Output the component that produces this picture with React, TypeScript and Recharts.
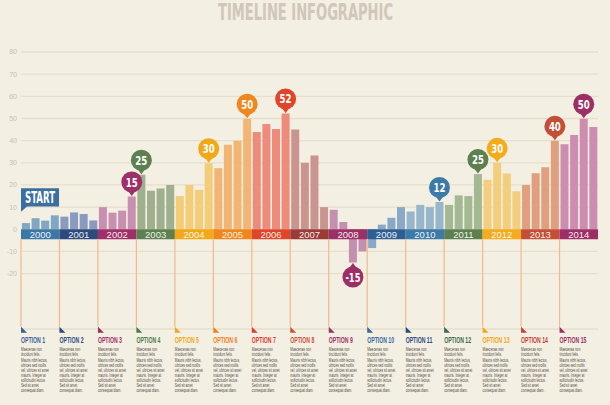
import React from 'react';
import {
  BarChart,
  Bar,
  XAxis,
  YAxis,
  CartesianGrid,
  Cell,
  LabelList,
  ReferenceArea,
  ReferenceLine,
  ReferenceDot,
} from 'recharts';

const years = ['2000', '2001', '2002', '2003', '2004', '2005', '2006', '2007', '2008', '2009', '2010', '2011', '2012', '2013', '2014'];

// band / pin colour per year
const yearColors = [
  '#3b78a6', '#2d4a7e', '#9e2f68', '#5d8050', '#f1a91a', '#f0861e', '#de4529', '#9b3b38',
  '#9c2f66', '#2f5f92', '#3c7aa8', '#5e8050', '#f2ac1c', '#c24f36', '#9c2f66',
];

// lighter bar colour per year
const barColors = [
  '#80a8c4', '#8a9bbf', '#c98fb0', '#9fb08e', '#f3cd78', '#f3b574', '#ee8b7b', '#c9958e',
  '#c58fb0', '#8aa8c8', '#96b6cc', '#a3b993', '#f3ce7c', '#e0a07f', '#cc8db0',
];

// four bars per year
const barValues = [
  [2.8, 5, 3.9, 6.3],
  [5.7, 7.6, 6.9, 4],
  [10, 7.5, 8.4, 14.8],
  [24.6, 17.4, 18.4, 20],
  [15, 20, 17.8, 29.8],
  [27.6, 38.2, 40, 49.9],
  [43.9, 47.5, 45.2, 52.3],
  [45, 30, 33.3, 10],
  [8.8, 3.3, -15, -10],
  [-8.5, 2.1, 5.2, 10],
  [8, 11, 10, 12.3],
  [11, 15.3, 15, 24.9],
  [22.3, 30, 25.2, 17.2],
  [20, 25.3, 28, 39.9],
  [38.4, 42.6, 49.9, 46.2],
];

const pinLabels: Record<string, string> = {
  '2002-3': '15',
  '2003-0': '25',
  '2004-3': '30',
  '2005-3': '50',
  '2006-3': '52',
  '2008-2': '-15',
  '2010-3': '12',
  '2011-3': '25',
  '2012-1': '30',
  '2013-3': '40',
  '2014-2': '50',
};

const optionTitles = ['OPTION 1', 'OPTION 2', 'OPTION 3', 'OPTION 4', 'OPTION 5', 'OPTION 6', 'OPTION 7', 'OPTION 8',
  'OPTION 9', 'OPTION 10', 'OPTION 11', 'OPTION 12', 'OPTION 13', 'OPTION 14', 'OPTION 15'];
const optionColors = [
  '#3a5f95', '#2d4a7e', '#9c2f66', '#4f7a50', '#f0a818', '#f07f1c', '#dc3c28', '#d0503c',
  '#9c2f66', '#3a6aa0', '#2d4a7e', '#3e6a50', '#f0a818', '#c8403a', '#9c2f66',
];
const optionText = [
  'Maecenas non',
  'tincidunt felis.',
  'Mauris nibh lectus,',
  'ultrices sed mollis',
  'vel, ultrices sit amet',
  'mauris. Integer at',
  'sollicitudin lectus.',
  'Sed sit amet',
  'consequat diam.',
];

const yTicks = [-20, -10, 0, 10, 20, 30, 40, 50, 60, 70, 80];

const data = years.flatMap((y, yi) =>
  barValues[yi].map((v, bi) => ({ key: `${y}-${bi}`, value: v, yi }))
);

const narrow = "'Liberation Sans Narrow', 'DejaVu Sans Condensed', 'Roboto', sans-serif";
const plain = "'Liberation Sans', Arial, sans-serif";

function Pin(props: any) {
  const { x, y, width, height, value, index } = props;
  const label = pinLabels[value];
  if (!label) return null;
  const d = data[index];
  const color = yearColors[d.yi];
  const cx = x + width / 2;
  const down = d.value < 0;
  const tip = down ? Math.max(y, y + height) : Math.min(y, y + height);
  const dir = down ? 1 : -1;
  const cy = tip + dir * 14.5;
  return (
    <g>
      <path d={`M${cx - 6},${cy - dir * 6} L${cx + 6},${cy - dir * 6} L${cx},${tip + dir * 0.5} Z`} fill={color} />
      <circle cx={cx} cy={cy} r={10.5} fill={color} />
      <text
        x={cx}
        y={cy + 4.6}
        textAnchor="middle"
        fill="#fff"
        fontSize={13}
        fontWeight="bold"
        fontFamily={narrow}
        textLength={label.length > 2 ? 15 : 12}
        lengthAdjust="spacingAndGlyphs"
      >
        {label}
      </text>
    </g>
  );
}

function YearLabel(props: any) {
  const vb = props.viewBox || {};
  return (
    <text
      x={vb.x + vb.width / 2}
      y={vb.y + vb.height / 2 + 3.4}
      textAnchor="middle"
      fill="#fff"
      fillOpacity={0.92}
      fontSize={9.5}
      fontFamily={plain}
    >
      {props.year}
    </text>
  );
}

function OptionLabel(props: any) {
  const vb = props.viewBox || {};
  const i = props.idx;
  const x = vb.x;
  const bottom = vb.y + vb.height;
  const color = optionColors[i];
  return (
    <g>
      <path d={`M${x},${bottom} L${x},${bottom + 6} L${x + 6},${bottom + 6} Z`} fill={color} />
      <g transform={`translate(${x},${bottom + 16.5}) scale(0.6,1)`}>
        <text x={0} y={0} fill={color} fontSize={8.6} fontWeight="bold" fontFamily={plain}>
          {optionTitles[i]}
        </text>
      </g>
      <g transform={`translate(${x},${bottom + 24.6}) scale(0.68,1)`}>
        {optionText.map((t, k) => (
          <text key={k} x={0} y={k * 5.1} fill="#514942" fontSize={4.7} fontFamily={plain}>
            {t}
          </text>
        ))}
      </g>
    </g>
  );
}

function StartFlag(props: any) {
  const left = props.cx - 4.8;
  const top = 188.3;
  return (
    <g>
      <path d={`M${left},${top} H${left + 38} V${top + 18.3} H${left + 6} L${left},${top + 23.5} Z`} fill="#3a6f9f" />
      <text
        x={left + 4}
        y={top + 15}
        fill="#fff"
        fontSize={16}
        fontWeight="bold"
        fontFamily={narrow}
        textLength={30}
        lengthAdjust="spacingAndGlyphs"
      >
        START
      </text>
    </g>
  );
}

export default function App() {
  return (
    <div style={{ position: 'absolute', left: 0, top: 0, width: 610, height: 405, background: '#f3efe2', overflow: 'hidden' }}>
      <svg width={610} height={30} style={{ position: 'absolute', left: 0, top: 0 }}>
        <text
          x={218}
          y={20}
          fill="#d0c6b9"
          fontSize={23}
          fontWeight="bold"
          fontFamily={narrow}
          textLength={175}
          lengthAdjust="spacingAndGlyphs"
        >
          TIMELINE INFOGRAPHIC
        </text>
      </svg>
      <div style={{ position: 'absolute', left: 0, top: 0 }}>
        <BarChart
          width={610}
          height={405}
          data={data}
          margin={{ top: 52, right: 12, bottom: 76, left: 0 }}
          barCategoryGap="10%"
        >
          <CartesianGrid vertical={false} stroke="#e6dfcb" strokeWidth={1.3} />
          <XAxis dataKey="key" type="category" hide />
          <YAxis
            type="number"
            domain={[-45, 80]}
            ticks={yTicks}
            width={21}
            axisLine={false}
            tickLine={false}
            tickSize={0}
            tickMargin={4}
            tick={{ fill: '#c9c0b1', fontSize: 7, fontFamily: plain }}
            interval={0}
          />
          <Bar dataKey="value" isAnimationActive={false}>
            {data.map((d) => (
              <Cell key={d.key} fill={barColors[d.yi]} />
            ))}
            <LabelList dataKey="key" content={<Pin />} />
          </Bar>
          {years.map((y, i) => (
            <ReferenceLine
              key={`l${y}`}
              segment={[{ x: `${y}-0`, y: -4.5 }, { x: `${y}-0`, y: -44 }]}
              position="start"
              stroke="#f1b98c"
              strokeWidth={1.2}
              label={<OptionLabel idx={i} />}
            />
          ))}
          {years.map((y, i) => (
            <ReferenceArea
              key={`a${y}`}
              x1={`${y}-0`}
              x2={`${y}-3`}
              y1={-4.5}
              y2={0}
              fill={yearColors[i]}
              fillOpacity={1}
              stroke="none"
              zIndex={350}
              label={<YearLabel year={y} />}
            />
          ))}
          <ReferenceDot x="2000-0" y={7.6} r={0} isFront shape={(p: any) => <StartFlag cx={p.cx} cy={p.cy} />} />
        </BarChart>
      </div>
    </div>
  );
}
